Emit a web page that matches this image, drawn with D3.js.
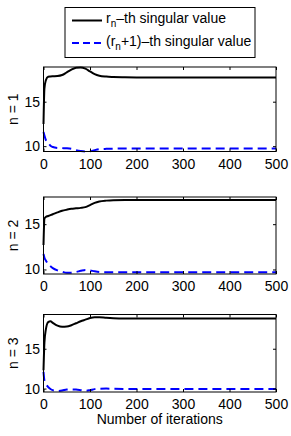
<!DOCTYPE html>
<meta charset="utf-8">
<script src="https://d3js.org/d3.v7.min.js"></script>
<style>
  body { margin: 0; background: #fff; }
  text { font-family: "Liberation Sans", Arial, sans-serif; }
</style>
<body>
<div id="canvas"></div>
<script>
// iterations
var iterations = [0, 2, 5, 10, 15, 20, 30, 40, 50, 60, 70, 80, 90, 100, 110, 120, 135, 150, 175, 200, 250, 300, 350, 400, 450, 500];

// n = 1
var n1_rn  = [12.5, 16.5, 17.4, 17.8, 17.83, 17.85, 17.88, 18.0, 18.3, 18.6, 18.82, 18.85, 18.72, 18.4, 18.1, 17.92, 17.82, 17.78, 17.75, 17.73, 17.72, 17.72, 17.72, 17.72, 17.72, 17.72];
var n1_rn1 = [11.6, 11.2, 10.7, 10.35, 10.05, 9.9, 9.8, 9.78, 9.76, 9.7, 9.55, 9.45, 9.4, 9.42, 9.55, 9.65, 9.7, 9.72, 9.73, 9.73, 9.73, 9.73, 9.73, 9.73, 9.73, 9.73];
// n = 2
var n2_rn  = [12.7, 15.6, 15.8, 15.9, 16.0, 16.1, 16.3, 16.48, 16.6, 16.7, 16.75, 16.8, 16.88, 17.1, 17.35, 17.5, 17.6, 17.65, 17.67, 17.67, 17.67, 17.67, 17.67, 17.67, 17.67, 17.67];
var n2_rn1 = [11.7, 11.3, 11.0, 10.6, 10.35, 10.15, 9.9, 9.75, 9.63, 9.65, 9.72, 9.85, 9.95, 9.9, 9.8, 9.73, 9.7, 9.7, 9.7, 9.7, 9.7, 9.7, 9.7, 9.7, 9.7, 9.7];
// n = 3
var n3_rn  = [12.3, 15.8, 17.4, 18.35, 18.45, 18.25, 17.9, 17.75, 17.78, 17.95, 18.2, 18.45, 18.65, 18.85, 18.95, 18.95, 18.88, 18.83, 18.8, 18.8, 18.8, 18.8, 18.8, 18.8, 18.8, 18.8];
var n3_rn1 = [12.1, 11.0, 10.6, 10.2, 9.95, 9.8, 9.7, 9.75, 9.88, 9.9, 9.87, 9.8, 9.72, 9.8, 9.93, 9.98, 10.0, 9.98, 9.96, 9.96, 9.96, 9.96, 9.96, 9.96, 9.96, 9.96];

var panelLabels = ["n = 1", "n = 2", "n = 3"];
var yDomains = [[9.4, 18.9], [9.5, 18.0], [9.57, 19.3]];
var xTicks = [0, 100, 200, 300, 400, 500];
var yTicks = [10, 15];

var panels = [
    {label: panelLabels[0], rn: n1_rn, rn1: n1_rn1, dom: yDomains[0]},
    {label: panelLabels[1], rn: n2_rn, rn1: n2_rn1, dom: yDomains[1]},
    {label: panelLabels[2], rn: n3_rn, rn1: n3_rn1, dom: yDomains[2]}
];

var width = 291, height = 436;
var svg = d3.select("#canvas").append("svg")
    .attr("width", width).attr("height", height);

var left = 43.5, right = 276;
// top/bottom of each axes box
var boxes = [[67, 151.5], [197, 274], [314.5, 392]];

var x = d3.scaleLinear().domain([0, 500]).range([left, right]);

panels.forEach(function(p, i) {
    var y = d3.scaleLinear().domain(p.dom).range([boxes[i][1], boxes[i][0]]);
    var g = svg.append("g");

    var line = function(vals) {
        return d3.line()
            .x(function(d, k) { return x(iterations[k]); })
            .y(function(d) { return y(d); })
            .curve(d3.curveMonotoneX)(vals);
    };

    g.append("path").attr("d", line(p.rn))
        .attr("fill", "none").attr("stroke", "#000").attr("stroke-width", 2);
    g.append("path").attr("d", line(p.rn1))
        .attr("fill", "none").attr("stroke", "#0000ff").attr("stroke-width", 2)
        .attr("stroke-dasharray", "9,5");

    // axes (ticks inward, box all around)
    var bottom = d3.axisBottom(x).tickValues(xTicks).tickSizeInner(-3).tickSizeOuter(0).tickPadding(7.5);
    var top = d3.axisTop(x).tickValues(xTicks).tickSizeInner(-3).tickSizeOuter(0).tickFormat("");
    var yl = d3.axisLeft(y).tickValues(yTicks).tickSizeInner(-3).tickSizeOuter(0).tickPadding(3.5);
    var yr = d3.axisRight(y).tickValues(yTicks).tickSizeInner(-3).tickSizeOuter(0).tickFormat("");

    g.append("g").attr("transform", "translate(0," + boxes[i][1] + ")").call(bottom);
    g.append("g").attr("transform", "translate(0," + boxes[i][0] + ")").call(top);
    g.append("g").attr("transform", "translate(" + left + ",0)").call(yl);
    g.append("g").attr("transform", "translate(" + right + ",0)").call(yr);

    g.selectAll(".tick text").style("font-size", "14px").attr("fill", "#000")
        .style("font-family", "'Liberation Sans', Arial, sans-serif");
    g.selectAll(".tick line").attr("stroke", "#000");
    g.selectAll(".domain").remove();

    g.append("rect")
        .attr("x", left).attr("y", boxes[i][0])
        .attr("width", right - left).attr("height", boxes[i][1] - boxes[i][0])
        .attr("fill", "none").attr("stroke", "#000").attr("stroke-width", 1);

    g.append("text")
        .attr("transform", "translate(17.5," + ((boxes[i][0] + boxes[i][1]) / 2) + ") rotate(-90)")
        .attr("text-anchor", "middle")
        .style("font-size", "14px")
        .text(p.label);
});

svg.append("text")
    .attr("x", (left + right) / 2).attr("y", 424)
    .attr("text-anchor", "middle")
    .style("font-size", "14px")
    .text("Number of iterations");

// legend
var leg = svg.append("g");
leg.append("rect").attr("x", 65).attr("y", 7.5).attr("width", 190).attr("height", 50)
    .attr("fill", "#fff").attr("stroke", "#000").attr("stroke-width", 1);
leg.append("line").attr("x1", 72).attr("x2", 102).attr("y1", 20.5).attr("y2", 20.5)
    .attr("stroke", "#000").attr("stroke-width", 2);
leg.append("line").attr("x1", 72).attr("x2", 102).attr("y1", 43).attr("y2", 43)
    .attr("stroke", "#0000ff").attr("stroke-width", 2).attr("stroke-dasharray", "7,4");

var t1 = leg.append("text").attr("x", 106).attr("y", 23).style("font-size", "14px");
t1.append("tspan").text("r");
t1.append("tspan").attr("dy", 4).style("font-size", "10px").text("n");
t1.append("tspan").attr("dy", -4).text("\u2013th singular value");

var t2 = leg.append("text").attr("x", 106).attr("y", 46).style("font-size", "14px");
t2.append("tspan").text("(r");
t2.append("tspan").attr("dy", 4).style("font-size", "10px").text("n");
t2.append("tspan").attr("dy", -4).text("+1)\u2013th singular value");
</script>
</body>
